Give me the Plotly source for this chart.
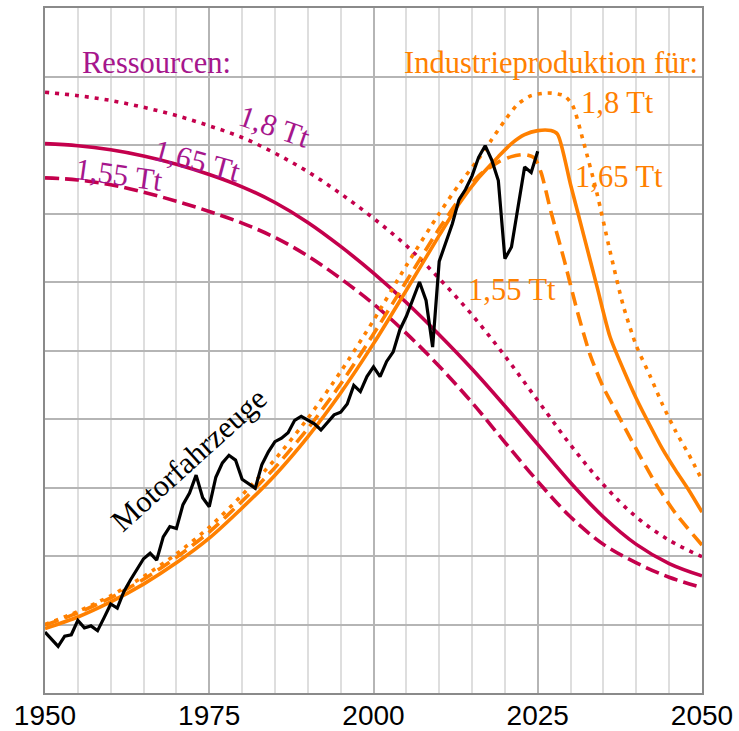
import plotly.graph_objects as go

# --- Resource depletion curves (remaining resources, arbitrary units 0-10) ---
res_years = [1950, 1955, 1960, 1965, 1970, 1975, 1980, 1985, 1990, 1995, 2000,
             2005, 2010, 2015, 2020, 2025, 2030, 2035, 2040, 2045, 2050]
res_180 = [8.77, 8.72, 8.65, 8.55, 8.43, 8.28, 8.11, 7.88, 7.61, 7.29, 6.93,
           6.53, 6.05, 5.52, 4.92, 4.27, 3.62, 3.04, 2.57, 2.23, 1.99]
res_165 = [8.02, 7.99, 7.93, 7.84, 7.72, 7.57, 7.39, 7.16, 6.87, 6.52, 6.13,
           5.70, 5.23, 4.73, 4.19, 3.63, 3.07, 2.57, 2.17, 1.89, 1.71]
res_155 = [7.52, 7.49, 7.42, 7.31, 7.18, 7.03, 6.86, 6.65, 6.38, 6.05, 5.68,
           5.25, 4.77, 4.24, 3.66, 3.09, 2.57, 2.17, 1.90, 1.69, 1.54]

# --- Industrial production scenarios ---
ind165_years = [1950, 1955, 1960, 1965, 1970, 1975, 1980, 1985, 1990, 1995, 2000,
                2005, 2010, 2013, 2016, 2019, 2021, 2023, 2025, 2027, 2028, 2030,
                2032, 2034, 2036, 2038, 2040, 2042, 2044, 2046, 2048, 2050]
ind165 = [0.94, 1.11, 1.33, 1.59, 1.90, 2.26, 2.70, 3.18, 3.74, 4.38, 5.10,
          5.88, 6.68, 7.14, 7.52, 7.83, 8.02, 8.15, 8.21, 8.21, 8.16, 7.42,
          6.68, 5.94, 5.20, 4.73, 4.30, 3.92, 3.56, 3.25, 2.96, 2.64]

ind155_years = [1950, 1955, 1960, 1965, 1970, 1975, 1980, 1985, 1990, 1995, 2000,
                2005, 2010, 2013, 2016, 2019, 2021, 2023, 2024.5, 2025.5, 2027,
                2029, 2031, 2033, 2035, 2037, 2040, 2043, 2046, 2050]
ind155 = [0.99, 1.17, 1.39, 1.66, 1.98, 2.35, 2.80, 3.29, 3.86, 4.51, 5.24,
          6.01, 6.78, 7.20, 7.55, 7.75, 7.83, 7.86, 7.81, 7.60, 7.03,
          6.33, 5.58, 4.93, 4.46, 4.10, 3.56, 3.05, 2.62, 2.16]

ind180_years = [1950, 1955, 1960, 1965, 1970, 1975, 1980, 1985, 1990, 1995, 2000,
                2005, 2010, 2013, 2016, 2018, 2020, 2022, 2024, 2026.5, 2029,
                2030.3, 2032, 2034, 2036, 2038, 2040, 2042, 2044, 2046, 2048, 2050]
ind180 = [1.00, 1.19, 1.42, 1.70, 2.03, 2.42, 2.89, 3.41, 4.01, 4.69, 5.44,
          6.24, 7.00, 7.42, 7.80, 8.08, 8.36, 8.60, 8.72, 8.76, 8.72,
          8.58, 8.03, 7.30, 6.45, 5.66, 5.07, 4.65, 4.21, 3.82, 3.48, 3.11]

# --- Motor vehicle production (annual) ---
car_years = list(range(1950, 2026))
cars = [0.89, 0.78, 0.68, 0.83, 0.85, 1.06, 0.95, 0.98, 0.91, 1.10,
        1.30, 1.24, 1.48, 1.65, 1.80, 1.96, 2.04, 1.94, 2.28, 2.43,
        2.40, 2.75, 2.92, 3.18, 2.85, 2.72, 3.15, 3.36, 3.47, 3.40,
        3.12, 3.05, 2.99, 3.33, 3.52, 3.67, 3.72, 3.80, 3.98, 4.04,
        3.98, 3.93, 3.84, 3.95, 4.06, 4.10, 4.22, 4.49, 4.40, 4.62,
        4.76, 4.62, 4.84, 4.98, 5.30, 5.50, 5.75, 6.00, 5.73, 5.05,
        6.30, 6.56, 6.85, 7.20, 7.35, 7.55, 7.82, 7.99, 7.78, 7.48,
        6.34, 6.51, 7.10, 7.68, 7.60, 7.91]

x_ticks = [1950, 1975, 2000, 2025, 2050]

CRIMSON = "#c4004c"
PURPLE = "#a6168c"
ORANGE = "#ff8000"
SERIF = "Liberation Serif"
LW = 3.6

fig = go.Figure()

for ys, dash in [(res_180, "4px,6px"), (res_165, "solid"), (res_155, "14px,6px")]:
    fig.add_trace(go.Scatter(x=res_years, y=ys, mode="lines",
                             line=dict(color=CRIMSON, width=LW, dash=dash,
                                       shape="spline", smoothing=1.0),
                             hoverinfo="skip"))

for xs, ys, dash in [(ind180_years, ind180, "4px,6px"),
                     (ind165_years, ind165, "solid"),
                     (ind155_years, ind155, "14px,7px")]:
    fig.add_trace(go.Scatter(x=xs, y=ys, mode="lines",
                             line=dict(color=ORANGE, width=LW, dash=dash,
                                       shape="spline", smoothing=0.7),
                             hoverinfo="skip"))

fig.add_trace(go.Scatter(x=car_years, y=cars, mode="lines",
                         line=dict(color="black", width=3.2),
                         hoverinfo="skip"))

def label(text, x, y, color, angle=0, size=30.5):
    fig.add_annotation(x=x, y=y, xref="x", yref="y", text=text, showarrow=False,
                       textangle=angle, xanchor="center", yanchor="middle",
                       font=dict(family=SERIF, size=size, color=color))

label("Ressourcen:", 1966.9, 9.2, PURPLE)
label("Industrieproduktion für:", 2027.0, 9.2, ORANGE)
label("1,8 Tt", 2037.2, 8.62, ORANGE)
label("1,65 Tt", 2037.3, 7.53, ORANGE)
label("1,55 Tt", 2021.1, 5.88, ORANGE)
label("1,8 Tt", 1985.0, 8.26, PURPLE, angle=19)
label("1,65 Tt", 1973.1, 7.76, PURPLE, angle=15)
label("1,55 Tt", 1961.3, 7.56, PURPLE, angle=8)
label("Motorfahrzeuge", 1971.9, 3.40, "black", angle=-42)

fig.update_layout(
    width=739, height=731,
    margin=dict(l=45, r=37, t=8, b=38),
    paper_bgcolor="white", plot_bgcolor="white",
    showlegend=False,
)
fig.update_xaxes(
    range=[1950, 2050], tickvals=x_ticks, ticktext=[str(v) for v in x_ticks],
    ticks="", ticklabelstandoff=-4,
    showgrid=True, gridcolor="#b5b5b5", gridwidth=1.5,
    minor=dict(dtick=5, showgrid=True, gridcolor="#dedede", gridwidth=1.5),
    showline=True, mirror=True, linecolor="#8a8a8a", linewidth=2,
    zeroline=False, automargin=False,
    tickfont=dict(family="Liberation Sans", size=28, color="black"),
)
fig.update_yaxes(
    range=[0, 10], dtick=1, showticklabels=False, ticks="",
    showgrid=True, gridcolor="#b5b5b5", gridwidth=1.5,
    showline=True, mirror=True, linecolor="#8a8a8a", linewidth=2,
    zeroline=False, automargin=False,
)

fig.write_html("out.html")
